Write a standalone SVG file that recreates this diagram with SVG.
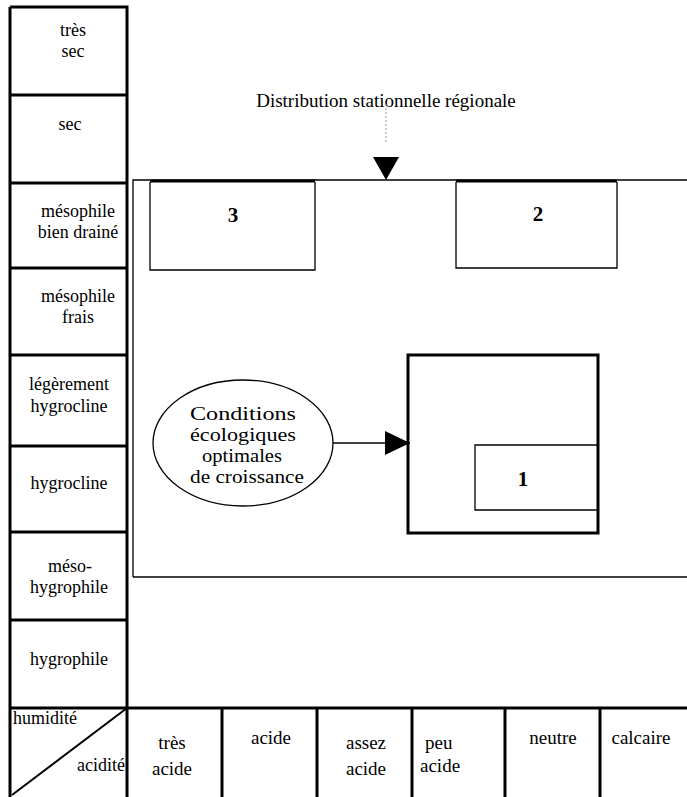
<svg xmlns="http://www.w3.org/2000/svg" width="687" height="797" viewBox="0 0 687 797">
<style>
text{font-family:"Liberation Serif","Times New Roman",serif;font-size:18px;fill:#000;text-anchor:middle}
.c{font-size:18px}
.r{font-size:19px}
.e{font-size:18.5px}
.b{font-weight:bold;font-size:21px}
.t{font-size:19px}
.thick{fill:none;stroke:#000;stroke-width:3}
.med{fill:none;stroke:#000;stroke-width:2}
.thin{fill:none;stroke:#000;stroke-width:1.3}
</style>
<defs>
<marker id="tri" markerWidth="25" markerHeight="24" refX="25" refY="12" orient="auto" markerUnits="userSpaceOnUse" viewBox="0 0 25 24">
<path d="M0,0 L25,12 L0,24 Z" fill="#000"/>
</marker>
</defs>
<rect width="687" height="797" fill="#fff"/>

<g id="humidity-column">
<path class="thick" d="M10,7 H127 V797 M10,7 V797"/>
<path class="thick" d="M10,95 H127 M10,183 H127 M10,268 H127 M10,355 H127 M10,446 H127 M10,532 H127 M10,620 H127"/>
<g id="h1"><text class="c" x="73" y="36">très</text><text class="c" x="73" y="57">sec</text></g>
<g id="h2"><text class="c" x="70" y="130">sec</text></g>
<g id="h3"><text class="c" x="78" y="217">mésophile</text><text class="c" x="78" y="238">bien drainé</text></g>
<g id="h4"><text class="c" x="78" y="302">mésophile</text><text class="c" x="78" y="323">frais</text></g>
<g id="h5"><text class="c" x="69" y="390">légèrement</text><text class="c" x="69" y="412">hygrocline</text></g>
<g id="h6"><text class="c" x="69" y="489">hygrocline</text></g>
<g id="h7"><text class="c" x="70" y="572">méso-</text><text class="c" x="69" y="593">hygrophile</text></g>
<g id="h8"><text class="c" x="69" y="665">hygrophile</text></g>
<g id="corner">
<path class="med" d="M127,708 L12,795"/>
<text class="c" x="13" y="724" style="text-anchor:start">humidité</text>
<text class="c" x="125" y="771" style="text-anchor:end">acidité</text>
</g>
</g>

<g id="acidity-row">
<path class="thick" d="M10,708 H687"/>
<path class="thick" d="M222,708 V797 M317,708 V797 M412,708 V797 M505,708 V797 M600,708 V797"/>
<g id="a1"><text class="r" x="172" y="749">très</text><text class="r" x="172" y="775">acide</text></g>
<g id="a2"><text class="r" x="271" y="744">acide</text></g>
<g id="a3"><text class="r" x="366" y="749">assez</text><text class="r" x="366" y="775">acide</text></g>
<g id="a4"><text class="r" x="425" y="749" style="text-anchor:start">peu</text><text class="r" x="420" y="772" style="text-anchor:start">acide</text></g>
<g id="a5"><text class="r" x="553" y="744">neutre</text></g>
<g id="a6"><text class="r" x="641" y="744">calcaire</text></g>
</g>

<g id="regional">
<path class="thin" d="M133,577 V180 H687 M133,577 H687"/>
</g>
<g id="title"><text class="t" x="386" y="107">Distribution stationnelle régionale</text></g>
<g id="box3"><path class="thin" d="M150,182 V270 H315 V182"/><path d="M150,181 H315" stroke="#000" stroke-width="3"/><text class="b" x="233" y="222">3</text></g>
<g id="box2"><path class="thin" d="M456,182 V268 H617 V182"/><path d="M456,181 H617" stroke="#000" stroke-width="3"/><text class="b" x="538" y="221">2</text></g>
<g id="ellipse"><ellipse cx="243" cy="443" rx="90" ry="63" class="thin"/>
<text class="e" x="243" y="420" textLength="106" lengthAdjust="spacingAndGlyphs">Conditions</text>
<text class="e" x="243" y="441" textLength="106" lengthAdjust="spacingAndGlyphs">écologiques</text>
<text class="e" x="242" y="462" textLength="80" lengthAdjust="spacingAndGlyphs">optimales</text>
<text class="e" x="247" y="483" textLength="114" lengthAdjust="spacingAndGlyphs">de croissance</text></g>
<g id="optimal"><rect x="408" y="355" width="190" height="178" class="thick"/></g>
<g id="box1"><path class="thin" d="M598,445 H475 V510 H598"/><text class="b" x="523" y="486">1</text></g>

<g id="connectors">
<path d="M386,104 V142" stroke="#999" stroke-width="1" stroke-dasharray="2,2" fill="none"/>
<path d="M373,157 H399 L386,180 Z" fill="#000"/>
<path d="M333,443 H410" stroke="#000" stroke-width="1.5" fill="none" marker-end="url(#tri)"/>
</g>
</svg>
